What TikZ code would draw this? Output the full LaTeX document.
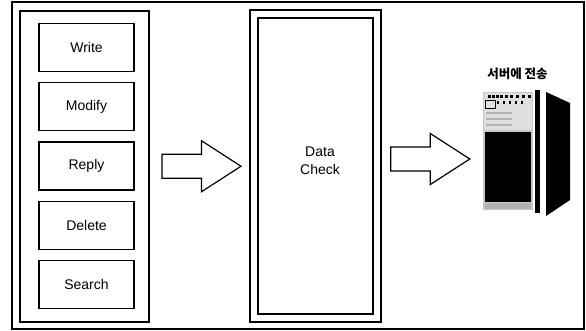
\documentclass[tikz,border=0pt]{standalone}
\usepackage{fontspec}
\setmainfont{Liberation Sans}
\newfontfamily\krfont{Noto Sans CJK KR}
\usetikzlibrary{positioning,calc}

\tikzset{
    frameline/.style={line width=1.2pt},
    menubox/.style={draw, frameline, minimum width=95pt, minimum height=48pt, inner sep=0pt,
        font=\fontsize{14}{16}\selectfont},
    blockarrow/.pic={
        \draw[frameline, fill=white] (-39.5,-12) -- (0,-12) -- (0,-25.5) -- (39.5,0)
            -- (0,25.5) -- (0,12) -- (-39.5,12) -- cycle;
    }
}

\begin{document}
\begin{tikzpicture}[x=1pt, y=-1pt]
    \useasboundingbox (0,0) rectangle (586,331);
    % outer frame
    \draw[frameline] (12,2) rectangle (584,329);

    % menu panel
    \node[draw, frameline, minimum width=129pt, minimum height=311pt] (panel) at (84.5,166.5) {};
    \foreach \name [count=\i from 0] in {Write, Modify, Reply, Delete, Search}
        \node[menubox] (btn\i) at (86.5,47.5+59.25*\i) {\name};

    % check box
    \node[draw, frameline, double, double distance=6.8pt, minimum width=123pt, minimum height=304pt] (check) at (315.5,166) {};
    \node[align=center, font=\fontsize{14}{18}\selectfont] (checktext) at (320,161) {Data\\Check};

    % server
    \coordinate (server) at (483,152);
    \begin{scope}
        % front face
        \fill[gray!45] (483,92) rectangle (533,210);
        \fill[gray!25] (484,93) rectangle (532,130);
        \fill[black] (485,132) rectangle (531,202);
        \fill[gray!60] (485,203) rectangle (531,209);
        % front panel marks
        \draw[line width=0.6pt] (485,100) rectangle (495,108);
        \foreach \x in {488, 492, 496, 500, 505, 510, 516, 522, 528}
            \fill (\x,95) rectangle ++(2.5,3);
        \foreach \x in {497, 503, 509, 515, 521}
            \fill (\x,101) rectangle ++(2,3);
        \foreach \y in {112, 118, 124}
            \fill[gray!60] (486,\y) rectangle (512,\y+2.5);
        % edge strip
        \fill[black] (535,90) rectangle (540,213);
        % side face
        \fill[black] (546,92) -- (570,103) -- (570,200) -- (546,216) -- cycle;
    \end{scope}
    \node[font=\krfont\bfseries\fontsize{12.5}{14}\selectfont] (label) at (517.5,74) {서버에 전송};

    % block arrows
    \pic at ($(panel.east)!0.5!(check.west)$) {blockarrow};
    \pic at ($(check.east)!0.5!(server)$) {blockarrow};
\end{tikzpicture}
\end{document}
